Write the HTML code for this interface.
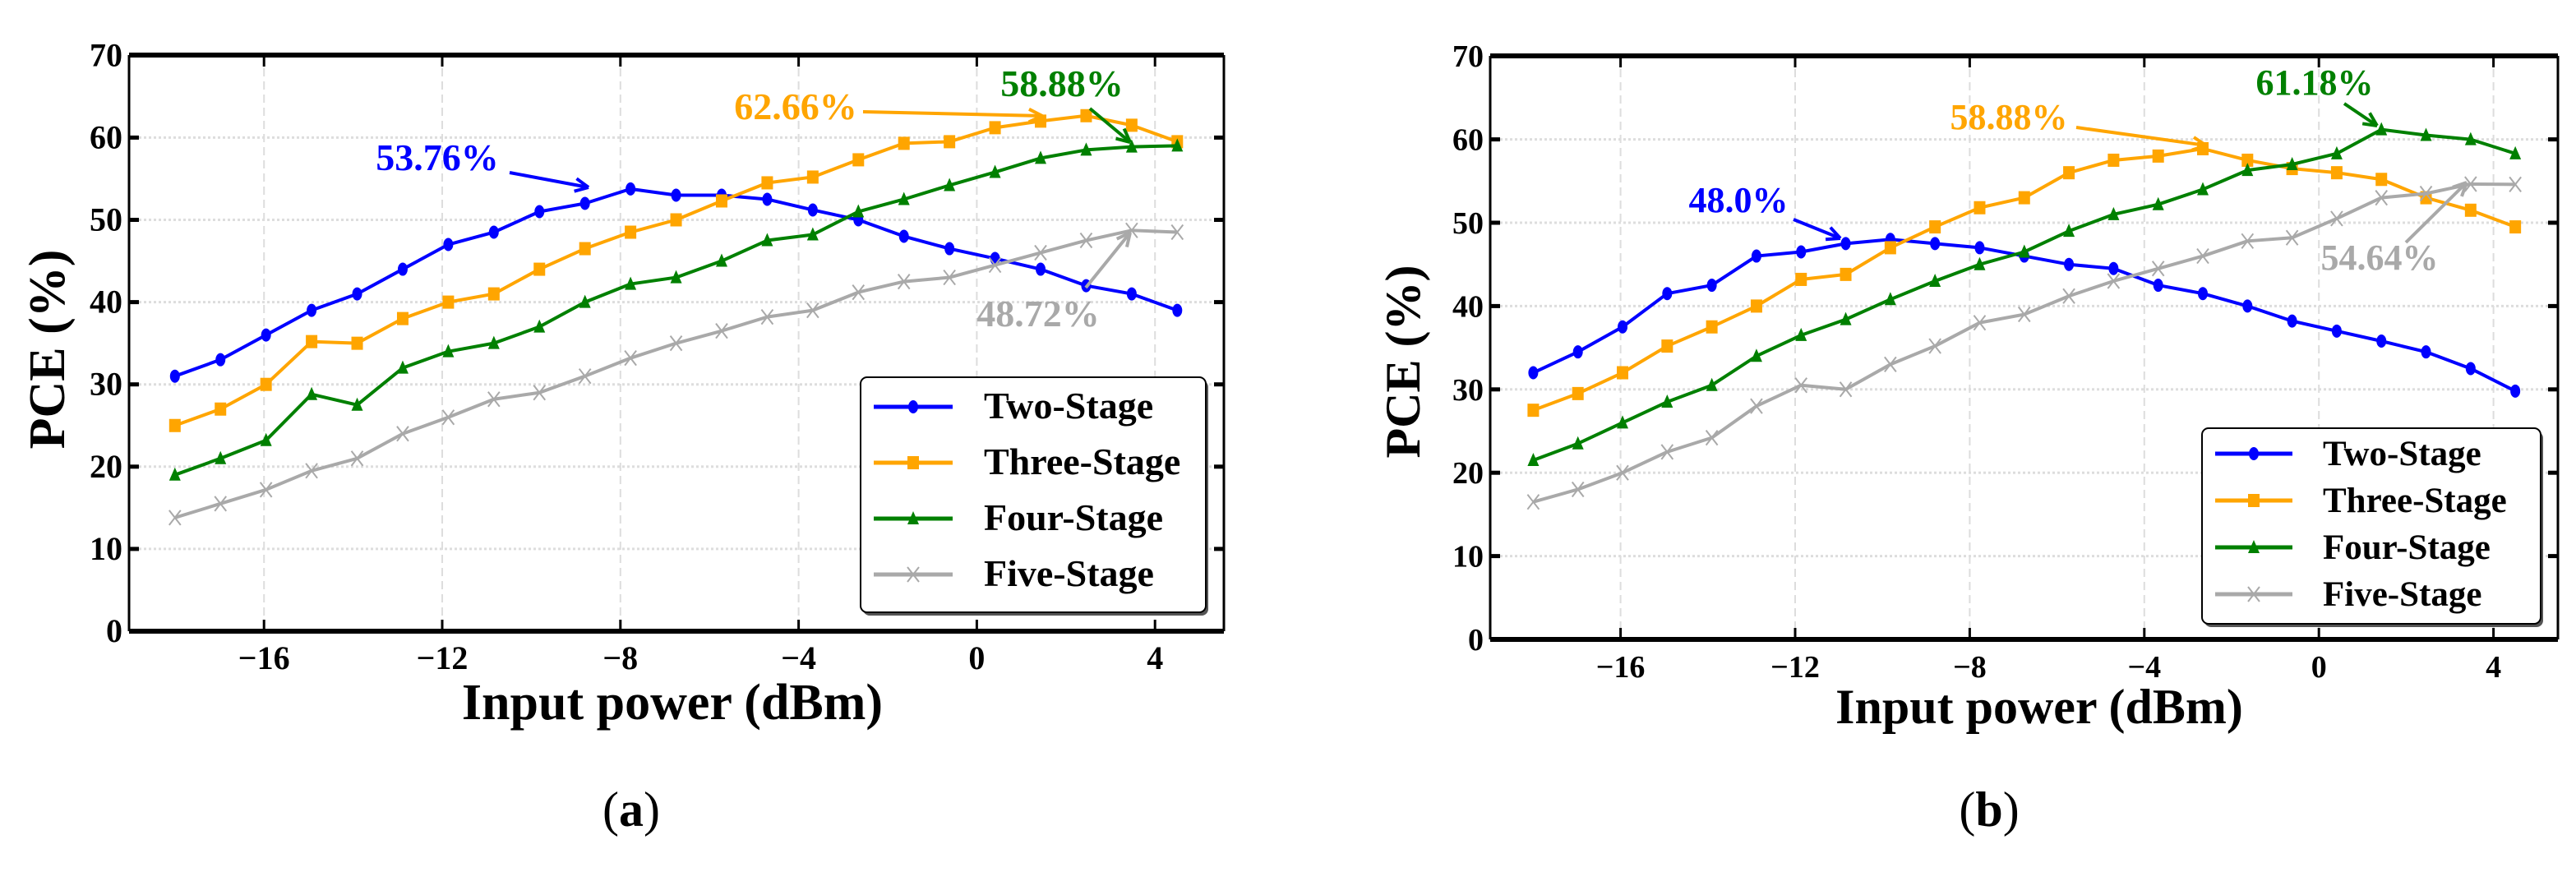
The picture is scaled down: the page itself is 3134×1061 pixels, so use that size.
<!DOCTYPE html>
<html><head><meta charset="utf-8">
<style>
html,body{margin:0;padding:0;background:#fff;}
svg, svg text{font-family:"Liberation Serif","Times New Roman",serif;}
</style></head>
<body>
<svg id="fig" width="3134" height="1056" viewBox="0 0 3134 1056" xmlns="http://www.w3.org/2000/svg" font-family="Liberation Serif, serif" font-weight="bold">
<text x="768" y="1005" font-size="60" font-weight="normal" text-anchor="middle" font-family="Liberation Serif, serif">(<tspan font-weight="bold">a</tspan>)</text>
<text x="2420" y="1005" font-size="60" font-weight="normal" text-anchor="middle" font-family="Liberation Serif, serif">(<tspan font-weight="bold">b</tspan>)</text>
</svg>
<script>
const xTicks=[-16,-12,-8,-4,0,4];
const yTicks=[0,10,20,30,40,50,60,70];
const xStart=-18, xEnd=4.5, nPts=23;
const seriesNames=["Two-Stage","Three-Stage","Four-Stage","Five-Stage"];
const seriesColors=["#0000ff","#ffa500","#008000","#a9a9a9"];
const a_two=[31,33,36,39,41,44,47,48.5,51,52,53.76,53,53,52.5,51.2,50,48,46.5,45.3,44,42,41,39];
const a_three=[25,27,30,35.2,35,38,40,41,44,46.5,48.5,50,52.3,54.5,55.2,57.3,59.3,59.5,61.2,62,62.66,61.5,59.5];
const a_four=[19,21,23.2,28.8,27.5,32,34,35,37,40,42.2,43,45,47.5,48.2,51,52.5,54.2,55.8,57.5,58.5,58.88,59];
const a_five=[13.8,15.5,17.2,19.5,21,24,26,28.2,29,31,33.2,35,36.5,38.2,39,41.2,42.5,43,44.5,46,47.5,48.72,48.5];
const b_two=[32,34.5,37.5,41.5,42.5,46,46.5,47.5,48,47.5,47,46,45,44.5,42.5,41.5,40,38.2,37,35.8,34.5,32.5,29.8];
const b_three=[27.5,29.5,32,35.2,37.5,40,43.2,43.8,47,49.5,51.8,53,56,57.5,58,58.88,57.5,56.5,56,55.2,53,51.5,49.5];
const b_four=[21.5,23.5,26,28.5,30.5,34,36.5,38.4,40.8,43,45,46.5,49,51,52.2,54,56.3,57,58.3,61.18,60.5,60,58.3];
const b_five=[16.5,18,20,22.5,24.2,28,30.5,30,33,35.2,38,39,41.2,43,44.5,46,47.8,48.2,50.5,53,53.5,54.64,54.6];

const NS="http://www.w3.org/2000/svg";
const svg=document.getElementById('fig');
const FF='Liberation Serif, serif';
function mk(tag,attrs,parent){const e=document.createElementNS(NS,tag);for(const k in attrs)e.setAttribute(k,attrs[k]);if(tag==='text')e.setAttribute('font-family',FF);(parent||svg).appendChild(e);return e;}

function drawChart(cfg,data,annots,id){
  const g=mk('g',{});
  
  
  const X=v=>cfg.x0+(v-cfg.xv0)*cfg.xs;
  const Y=v=>cfg.y0-v*cfg.ys;
  xTicks.forEach(t=>{const l=mk('line',{x1:X(t),x2:X(t),y1:cfg.top,y2:cfg.bot,stroke:'#ddd','stroke-width':2,'stroke-dasharray':'10,6'},g);
    
    });
  yTicks.forEach(t=>{if(t===0||t===70)return;const l=mk('line',{x1:cfg.left,x2:cfg.right,y1:Y(t),y2:Y(t),stroke:'#ddd','stroke-width':3,'stroke-dasharray':'3,3'},g);
    
    });
  mk('line',{x1:cfg.left,x2:cfg.right,y1:cfg.top,y2:cfg.top,stroke:'#000','stroke-width':6},g);
  mk('line',{x1:cfg.left,x2:cfg.right,y1:cfg.bot,y2:cfg.bot,stroke:'#000','stroke-width':6},g);
  mk('line',{x1:cfg.left,x2:cfg.left,y1:cfg.top,y2:cfg.bot,stroke:'#000','stroke-width':3},g);
  mk('line',{x1:cfg.right,x2:cfg.right,y1:cfg.top,y2:cfg.bot,stroke:'#000','stroke-width':3},g);
  xTicks.forEach(t=>{
    mk('line',{x1:X(t),x2:X(t),y1:cfg.bot,y2:cfg.bot-14,stroke:'#000','stroke-width':3},g);
    mk('line',{x1:X(t),x2:X(t),y1:cfg.top,y2:cfg.top+14,stroke:'#000','stroke-width':3},g);
    const tx=mk('text',{x:X(t),y:cfg.bot+46,'font-size':cfg.tickFs,'text-anchor':'middle','font-weight':'bold'},g);
    
    
    tx.textContent=(t<0?'\u2212':'')+Math.abs(t);
  });
  yTicks.forEach(t=>{
    mk('line',{x1:cfg.left,x2:cfg.left+12,y1:Y(t),y2:Y(t),stroke:'#000','stroke-width':5},g);
    mk('line',{x1:cfg.right,x2:cfg.right-12,y1:Y(t),y2:Y(t),stroke:'#000','stroke-width':5},g);
    const tx=mk('text',{x:cfg.left-8,y:Y(t)+13,'font-size':cfg.tickFs,'text-anchor':'end','font-weight':'bold'},g);
    
    
    tx.textContent=t;
  });
  const xt=mk('text',{x:cfg.xlx,y:cfg.xly,'font-size':cfg.labFs,'text-anchor':'middle','font-weight':'bold'},g);
  
  
  xt.textContent='Input power (dBm)';
  const yt=mk('text',{x:0,y:0,'font-size':cfg.labFs,'text-anchor':'middle','font-weight':'bold',transform:`translate(${cfg.ylx},${cfg.yly}) rotate(-90)`},g);
  
  
  yt.textContent='PCE (%)';
  data.forEach((vals,si)=>{
    const col=seriesColors[si];
    const sg=mk('g',{},g);
    
    
    const pts=vals.map((v,i)=>[X(xStart+i*(xEnd-xStart)/(nPts-1)),Y(v)]);
    const pl=mk('polyline',{points:pts.map(p=>p.join(',')).join(' '),fill:'none',stroke:col,'stroke-width':4,'stroke-linejoin':'round'},sg);
    
    
    pts.forEach(p=>{const m=marker(si,p[0],p[1],col,sg);
      
      });
  });
  const L=cfg.leg;
  const lg=mk('g',{},g);
  
  
  mk('rect',{x:L.x+3,y:L.y+4,width:L.w,height:L.h,rx:8,fill:'#555'},lg);
  mk('rect',{x:L.x,y:L.y,width:L.w,height:L.h,rx:8,fill:'#fff',stroke:'#000','stroke-width':2},lg);
  seriesNames.forEach((n,si)=>{
    const yy=L.y+L.dy0+si*L.step;
    const eg=mk('g',{},lg);
    
    
    mk('line',{x1:L.x+16,x2:L.x+16+L.lw,y1:yy,y2:yy,stroke:seriesColors[si],'stroke-width':5},eg);
    marker(si,L.x+16+L.lw/2,yy,seriesColors[si],eg);
    const t=mk('text',{x:L.x+L.tx,y:yy+14,'font-size':L.fs,'font-weight':'bold'},eg);
    t.textContent=n;
  });
  annots.forEach(a=>{
    const ag=mk('g',{},g);
    
    
    const t=mk('text',{x:a.tx,y:a.ty+15,'font-size':cfg.annFs,'text-anchor':'middle',fill:a.c,'font-weight':'bold'},ag);
    t.textContent=a.t;
    mk('line',{x1:a.x1,y1:a.y1,x2:a.x2,y2:a.y2,stroke:a.c,'stroke-width':4},ag);
    const ang=Math.atan2(a.y2-a.y1,a.x2-a.x1),hl=18;
    [0.45,-0.45].forEach(d=>mk('line',{x1:a.x2,y1:a.y2,x2:a.x2-hl*Math.cos(ang+d),y2:a.y2-hl*Math.sin(ang+d),stroke:a.c,'stroke-width':4},ag));
  });
}
function marker(si,x,y,col,parent){
  if(si===0)return mk('ellipse',{cx:x,cy:y,rx:6,ry:8,fill:col},parent);
  if(si===1)return mk('rect',{x:x-7,y:y-8,width:14,height:16,fill:col},parent);
  if(si===2)return mk('polygon',{points:`${x},${y-9} ${x-7},${y+7} ${x+7},${y+7}`,fill:col},parent);
  const gg=mk('g',{stroke:col,'stroke-width':2},parent);
  mk('line',{x1:x-7,y1:y-9,x2:x+7,y2:y+9},gg);mk('line',{x1:x-7,y1:y+9,x2:x+7,y2:y-9},gg);
  return gg;
}
const cfgA={x0:538,xv0:-12,xs:54.2,y0:768,ys:10.01,left:157,right:1489,top:67,bot:768,tickFs:40,labFs:62,
  xlx:818,xly:875,ylx:78,yly:425,annFs:46,
  leg:{x:1047,y:459,w:420,h:286,dy0:36,step:68,lw:96,tx:150,fs:46}};
const cfgB={x0:2184,xv0:-12,xs:53.1,y0:778,ys:10.14,left:1813,right:3112,top:68,bot:778,tickFs:38,labFs:60,
  xlx:2481,xly:880,ylx:1727,yly:440,annFs:44,
  leg:{x:2679,y:521,w:412,h:238,dy0:31,step:57,lw:94,tx:147,fs:43}};
drawChart(cfgA,[a_two,a_three,a_four,a_five],[
  {t:'53.76%',c:'#0000ff',tx:532,ty:192,x1:620,y1:210,x2:716,y2:228},
  {t:'62.66%',c:'#ffa500',tx:968,ty:130,x1:1050,y1:136,x2:1268,y2:141},
  {t:'58.88%',c:'#008000',tx:1292,ty:102,x1:1326,y1:132,x2:1375,y2:173},
  {t:'48.72%',c:'#a9a9a9',tx:1263,ty:382,x1:1321,y1:350,x2:1375,y2:283}],'a');
drawChart(cfgB,[b_two,b_three,b_four,b_five],[
  {t:'48.0%',c:'#0000ff',tx:2115,ty:243,x1:2182,y1:267,x2:2239,y2:290},
  {t:'58.88%',c:'#ffa500',tx:2444,ty:142,x1:2526,y1:155,x2:2684,y2:177},
  {t:'61.18%',c:'#008000',tx:2816,ty:100,x1:2852,y1:126,x2:2892,y2:153},
  {t:'54.64%',c:'#a9a9a9',tx:2895,ty:313,x1:2927,y1:295,x2:3001,y2:222}],'b');
</script>
</body></html>
